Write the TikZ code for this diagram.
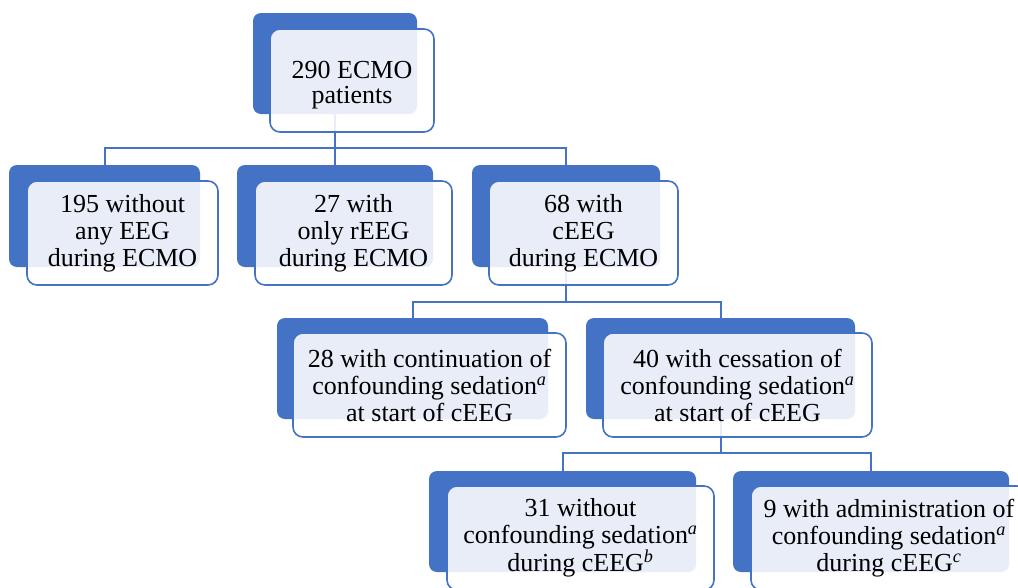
\documentclass[tikz,border=0pt]{standalone}
\usepackage{fontspec}
\setmainfont{Liberation Serif}
\usetikzlibrary{calc}
\definecolor{obl}{HTML}{4472C4}
\newcommand{\supit}[1]{\textsuperscript{\itshape #1}}
\begin{document}
\begin{tikzpicture}[x=1pt,y=-1pt,
  backbox/.style={fill=obl, rounded corners=8pt, inner sep=0pt, outer sep=0pt, anchor=north west},
  frontbox/.style={draw=obl, line width=1.6pt, fill=white, fill opacity=0.88, text opacity=1,
    rounded corners=10pt, inner sep=0pt, outer sep=0pt, anchor=north west, align=center,
    font=\fontsize{26}{27}\selectfont},
  conn/.style={draw=obl, line width=2pt}]
\useasboundingbox (0,0) rectangle (1018,587);
\clip (0,0) rectangle (1018,587);
\fill[white] (0,0) rectangle (1018,587);
% back boxes
\node[backbox, minimum width=164pt, minimum height=101pt] (b0) at (253,13) {};
\node[backbox, minimum width=191pt, minimum height=102pt] (b1) at (9,165) {};
\node[backbox, minimum width=196pt, minimum height=102pt] (b2) at (237,165) {};
\node[backbox, minimum width=188pt, minimum height=102pt] (b3) at (472,165) {};
\node[backbox, minimum width=271pt, minimum height=101pt] (b4) at (277,318) {};
\node[backbox, minimum width=269pt, minimum height=101pt] (b5) at (586,318) {};
\node[backbox, minimum width=267pt, minimum height=101pt] (b6) at (429,471) {};
\node[backbox, minimum width=276pt, minimum height=101pt] (b7) at (733,471) {};
% branching levels
\coordinate (r1) at (0,148);
\coordinate (r2) at (0,302);
\coordinate (r3) at (0,453);
% connectors
\draw[conn] (b0.south) -- (b0.south |- r1) -| (b1.north);
\draw[conn] (b0.south) -- (b0.south |- r1) -| (b2.north);
\draw[conn] (b0.south) -- (b0.south |- r1) -| (b3.north);
\draw[conn] (b3.south) -- (b3.south |- r2) -| (b4.north);
\draw[conn] (b3.south) -- (b3.south |- r2) -| (b5.north);
\draw[conn] (b5.south) -- (b5.south |- r3) -| (b6.north);
\draw[conn] (b5.south) -- (b5.south |- r3) -| (b7.north);
% front boxes
\node[frontbox, minimum width=164pt, minimum height=103pt, font=\fontsize{26}{25}\selectfont] (f0) at ($(b0.north west)+(17,16)$) {\rule{0pt}{26pt}290 ECMO\\patients};
\node[frontbox, minimum width=191pt, minimum height=104pt] (f1) at ($(b1.north west)+(18,16)$) {195 without\\any EEG\\during ECMO};
\node[frontbox, minimum width=197pt, minimum height=104pt] (f2) at ($(b2.north west)+(18,16)$) {27 with\\only rEEG\\during ECMO};
\node[frontbox, minimum width=189pt, minimum height=104pt] (f3) at ($(b3.north west)+(17,16)$) {68 with\\cEEG\\during ECMO};
\node[frontbox, minimum width=273pt, minimum height=104pt] (f4) at ($(b4.north west)+(16,15)$) {28 with continuation of\\confounding sedation\supit{a}\\at start of cEEG};
\node[frontbox, minimum width=269pt, minimum height=104pt] (f5) at ($(b5.north west)+(17,15)$) {40 with cessation of\\confounding sedation\supit{a}\\at start of cEEG};
\node[frontbox, minimum width=267pt, minimum height=104pt] (f6) at ($(b6.north west)+(18,15)$) {31 without\\confounding sedation\supit{a}\\during cEEG\supit{b}};
\node[frontbox, minimum width=276pt, minimum height=104pt] (f7) at ($(b7.north west)+(18,15)$) {9 with administration of\\confounding sedation\supit{a}\\during cEEG\supit{c}};
\end{tikzpicture}
\end{document}
